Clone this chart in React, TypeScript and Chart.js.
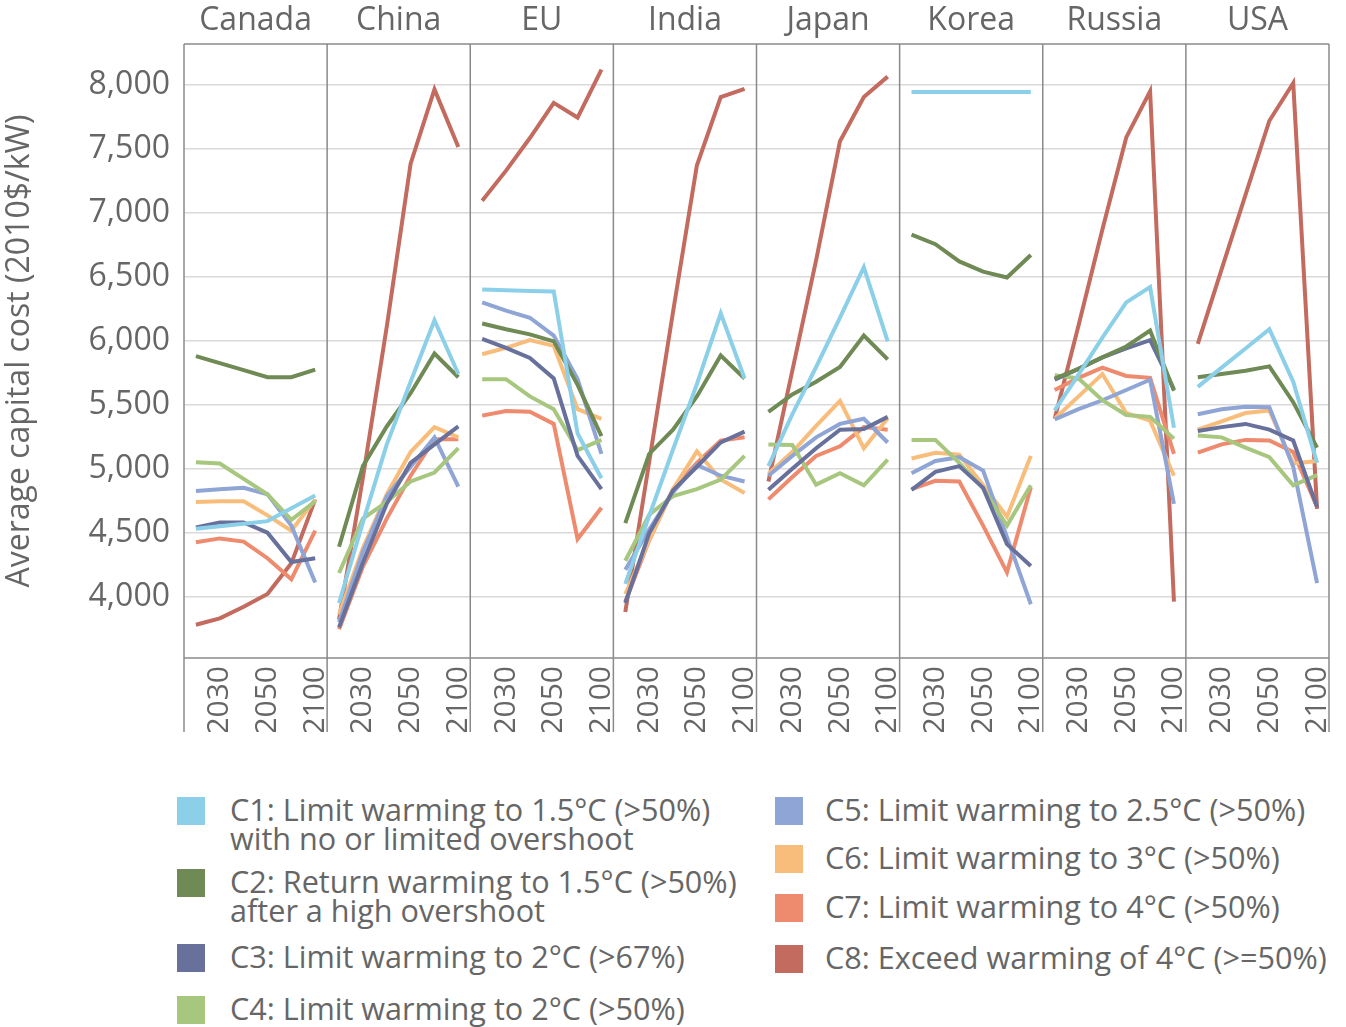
import React, { useEffect, useRef } from 'react';
import { Chart, registerables } from 'chart.js';

Chart.register(...registerables);

const COUNTRIES = ['Canada', 'China', 'EU', 'India', 'Japan', 'Korea', 'Russia', 'USA'];
const YEARS = ['2025', '2030', '2040', '2050', '2075', '2100'];
const SHOWN_YEARS = ['2030', '2050', '2100'];
const Y_TICKS = [4000, 4500, 5000, 5500, 6000, 6500, 7000, 7500, 8000];
const Y_MIN = 3520;
const Y_MAX = 8320;

const SCENARIOS = [
  ['C1: Limit warming to 1.5°C (>50%)', 'with no or limited overshoot'],
  ['C2: Return warming to 1.5°C (>50%)', 'after a high overshoot'],
  ['C3: Limit warming to 2°C (>67%)'],
  ['C4: Limit warming to 2°C (>50%)'],
  ['C5: Limit warming to 2.5°C (>50%)'],
  ['C6: Limit warming to 3°C (>50%)'],
  ['C7: Limit warming to 4°C (>50%)'],
  ['C8: Exceed warming of 4°C (>=50%)'],
];
const COLORS = ['#8ccfe8', '#6f8a55', '#67719c', '#a7c77f', '#8fa5d5', '#f9bd7b', '#ee8a6d', '#c26b5e'];

// rows: C1..C8, columns: YEARS
const CANADA = [
  [4530, 4550, 4570, 4590, 4690, 4790],
  [5880, 5825, 5770, 5715, 5715, 5775],
  [4540, 4580, 4580, 4500, 4270, 4300],
  [5050, 5040, 4920, 4800, 4600, 4745],
  [4825, 4840, 4850, 4800, 4555, 4110],
  [4740, 4745, 4745, 4635, 4515, 4760],
  [4425, 4455, 4430, 4300, 4135, 4515],
  [3780, 3830, 3920, 4020, 4260, 4760],
];
const CHINA = [
  [3950, 4580, 5190, 5680, 6160, 5740],
  [4390, 5020, 5330, 5590, 5900, 5715],
  [3760, 4265, 4725, 5045, 5190, 5330],
  [4185, 4610, 4740, 4900, 4970, 5160],
  [3800, 4350, 4785, 5015, 5245, 4860],
  [3860, 4380, 4800, 5130, 5325, 5245],
  [3745, 4235, 4610, 4945, 5230, 5230],
  [3820, 4930, 6110, 7385, 7965, 7515],
];
const EU = [
  [6400, 6395, 6390, 6385, 5275, 4925],
  [6135, 6090, 6050, 5995, 5655, 5255],
  [6015, 5945, 5865, 5705, 5100, 4840],
  [5700, 5700, 5565, 5465, 5145, 5225],
  [6300, 6235, 6180, 6040, 5700, 5115],
  [5895, 5945, 6005, 5960, 5465, 5390],
  [5415, 5450, 5445, 5350, 4450, 4695],
  [7095, 7330, 7585, 7860, 7745, 8120],
];
const INDIA = [
  [4100, 4630, 5150, 5660, 6215, 5705],
  [4575, 5115, 5305, 5565, 5885, 5705],
  [3950, 4495, 4830, 5015, 5205, 5290],
  [4280, 4640, 4785, 4840, 4915, 5100],
  [4210, 4525, 4815, 5030, 4945, 4900],
  [4020, 4440, 4840, 5135, 4915, 4810],
  [3960, 4440, 4840, 5045, 5220, 5245],
  [3880, 5050, 6225, 7370, 7905, 7970],
];
const JAPAN = [
  [5020, 5425, 5795, 6180, 6575, 5995],
  [5445, 5580, 5680, 5795, 6040, 5855],
  [4835, 5000, 5160, 5305, 5310, 5405],
  [5190, 5185, 4875, 4965, 4870, 5070],
  [4945, 5100, 5245, 5350, 5390, 5205],
  [4960, 5130, 5335, 5530, 5160, 5395],
  [4760, 4935, 5100, 5175, 5325, 5305],
  [4900, 5765, 6630, 7560, 7905, 8065],
];
const KOREA = [
  [7945, 7945, 7945, 7945, 7945, 7945],
  [6830, 6755, 6620, 6540, 6495, 6670],
  [4835, 4975, 5020, 4850, 4410, 4240],
  [5225, 5225, 5045, 4845, 4555, 4870],
  [4965, 5060, 5090, 4985, 4465, 3940],
  [5080, 5125, 5110, 4870, 4625, 5100],
  [4840, 4905, 4900, 4555, 4190, 4855],
  null,
];
const RUSSIA = [
  [5455, 5735, 6025, 6300, 6420, 5320],
  [5705, 5780, 5870, 5955, 6080, 5610],
  [5695, 5780, 5870, 5940, 6005, 5620],
  [5730, 5705, 5535, 5420, 5405, 5235],
  [5385, 5465, 5535, 5615, 5695, 4725],
  [5390, 5565, 5740, 5435, 5375, 4945],
  [5615, 5710, 5790, 5725, 5710, 5115],
  [5390, 6120, 6870, 7590, 7950, 3960],
];
const USA = [
  [5640, 5790, 5940, 6090, 5680, 5045],
  [5715, 5740, 5765, 5800, 5520, 5165],
  [5295, 5325, 5350, 5305, 5220, 4700],
  [5260, 5245, 5165, 5090, 4870, 4950],
  [5425, 5465, 5485, 5480, 5015, 4105],
  [5305, 5370, 5435, 5455, 5040, 5060],
  [5125, 5190, 5225, 5220, 5130, 4700],
  [5975, 6560, 7140, 7720, 8015, 4685],
];
const COUNTRY_DATA = [CANADA, CHINA, EU, INDIA, JAPAN, KOREA, RUSSIA, USA];

const FONT = "'Open Sans', sans-serif";
const TEXT = '#666666';
const FRAME = '#8a8a8a';

const framePlugin = {
  id: 'panelFrame',
  beforeDatasetsDraw(chart: any) {
    const { ctx, chartArea } = chart;
    const xs = COUNTRIES.map((_, i) => chart.scales['x' + i]);
    const bottom = xs[0].bottom;
    ctx.save();
    ctx.strokeStyle = FRAME;
    ctx.lineWidth = 1.5;
    ctx.beginPath();
    ctx.moveTo(chartArea.left, chartArea.top);
    ctx.lineTo(chartArea.right, chartArea.top);
    ctx.moveTo(chartArea.left, chartArea.bottom);
    ctx.lineTo(chartArea.right, chartArea.bottom);
    xs.forEach((s: any) => {
      ctx.moveTo(s.left, chartArea.top);
      ctx.lineTo(s.left, bottom);
    });
    ctx.moveTo(chartArea.right, chartArea.top);
    ctx.lineTo(chartArea.right, bottom);
    ctx.stroke();
    ctx.restore();
  },
};

const noSidePadding = (s: any) => {
  s.paddingLeft = 0;
  s.paddingRight = 0;
};

function ChartPanel() {
  const ref = useRef<HTMLCanvasElement>(null);
  useEffect(() => {
    if (!ref.current) return;
    const datasets: any[] = [];
    COUNTRY_DATA.forEach((rows, c) => {
      rows.forEach((row, s) => {
        if (!row) return;
        datasets.push({
          label: SCENARIOS[s][0],
          data: row,
          xAxisID: 'x' + c,
          yAxisID: 'y',
          borderColor: COLORS[s],
          backgroundColor: COLORS[s],
          borderWidth: 4,
          pointRadius: 0,
          tension: 0,
          fill: false,
        });
      });
    });
    const scales: any = {
      y: {
        type: 'linear',
        position: 'left',
        min: Y_MIN,
        max: Y_MAX,
        afterBuildTicks: (s: any) => {
          s.ticks = Y_TICKS.map((v) => ({ value: v }));
        },
        afterFit: (s: any) => {
          s.width = 184;
          s.paddingTop = 0;
          s.paddingBottom = 0;
        },
        grid: { color: '#dadada', lineWidth: 1.5, drawTicks: false },
        border: { display: false },
        ticks: {
          padding: 14,
          color: TEXT,
          font: { family: FONT, size: 32 },
          callback: (v: any) => Number(v).toLocaleString('en-US'),
        },
        title: {
          display: true,
          text: 'Average capital cost (2010$/kW)',
          color: TEXT,
          font: { family: FONT, size: 32 },
          padding: { top: 1, bottom: 0 },
        },
      },
    };
    COUNTRIES.forEach((name, i) => {
      scales['x' + i] = {
        type: 'category',
        labels: YEARS,
        position: 'bottom',
        stack: 'bottomStack',
        stackWeight: 1,
        offset: true,
        grid: { display: false },
        border: { display: false },
        afterFit: (s: any) => {
          s.height = 74;
          noSidePadding(s);
        },
        ticks: {
          autoSkip: false,
          minRotation: 90,
          maxRotation: 90,
          padding: 0,
          color: TEXT,
          font: { family: FONT, size: 30 },
          callback: (_v: any, idx: number) => (SHOWN_YEARS.includes(YEARS[idx]) ? YEARS[idx] : ''),
        },
      };
    });
    // top (title) axes are laid out in reverse order of insertion
    for (let i = COUNTRIES.length - 1; i >= 0; i--) {
      scales['t' + i] = {
        type: 'category',
        labels: YEARS,
        position: 'top',
        stack: 'topStack',
        stackWeight: 1,
        offset: true,
        grid: { display: false },
        border: { display: false },
        ticks: { display: false },
        afterFit: (s: any) => {
          s.height = 44;
          noSidePadding(s);
        },
        title: {
          display: true,
          text: COUNTRIES[i],
          color: TEXT,
          font: { family: FONT, size: 32 },
          padding: { top: 2, bottom: 0 },
        },
      };
    }
    const chart = new Chart(ref.current, {
      type: 'line',
      data: { labels: YEARS, datasets },
      options: {
        responsive: false,
        animation: false,
        devicePixelRatio: 1,
        layout: { padding: { left: 0, right: 17, top: 0, bottom: 8 } },
        plugins: { legend: { display: false }, tooltip: { enabled: false } },
        scales,
      },
      plugins: [framePlugin],
    });
    return () => chart.destroy();
  }, []);
  return <canvas ref={ref} width={1346} height={740} style={{ position: 'absolute', left: 0, top: 0 }} />;
}

const LEGEND_LEFT = [0, 1, 2, 3];
const LEGEND_RIGHT = [4, 5, 6, 7];
const LEGEND_TOPS_LEFT = [797, 869, 944, 996];
const LEGEND_TOPS_RIGHT = [797, 845, 894, 945];

function LegendItem({ idx, x, textX, top }: { idx: number; x: number; textX: number; top: number }) {
  return (
    <>
      <div
        style={{
          position: 'absolute',
          left: x,
          top,
          width: 28,
          height: 28,
          background: COLORS[idx],
        }}
      />
      <div
        style={{
          position: 'absolute',
          left: textX,
          top: top - 2,
          fontFamily: FONT,
          fontSize: 30.6,
          lineHeight: '29px',
          color: TEXT,
          whiteSpace: 'nowrap',
        }}
      >
        {SCENARIOS[idx].map((line, k) => (
          <div key={k}>{line}</div>
        ))}
      </div>
    </>
  );
}

export default function App() {
  return (
    <div
      style={{
        position: 'fixed',
        left: 0,
        top: 0,
        width: 1346,
        height: 1027,
        background: '#ffffff',
        overflow: 'hidden',
      }}
    >
      <ChartPanel />
      {LEGEND_LEFT.map((idx, k) => (
        <LegendItem key={idx} idx={idx} x={177} textX={230} top={LEGEND_TOPS_LEFT[k]} />
      ))}
      {LEGEND_RIGHT.map((idx, k) => (
        <LegendItem key={idx} idx={idx} x={775} textX={825} top={LEGEND_TOPS_RIGHT[k]} />
      ))}
    </div>
  );
}
